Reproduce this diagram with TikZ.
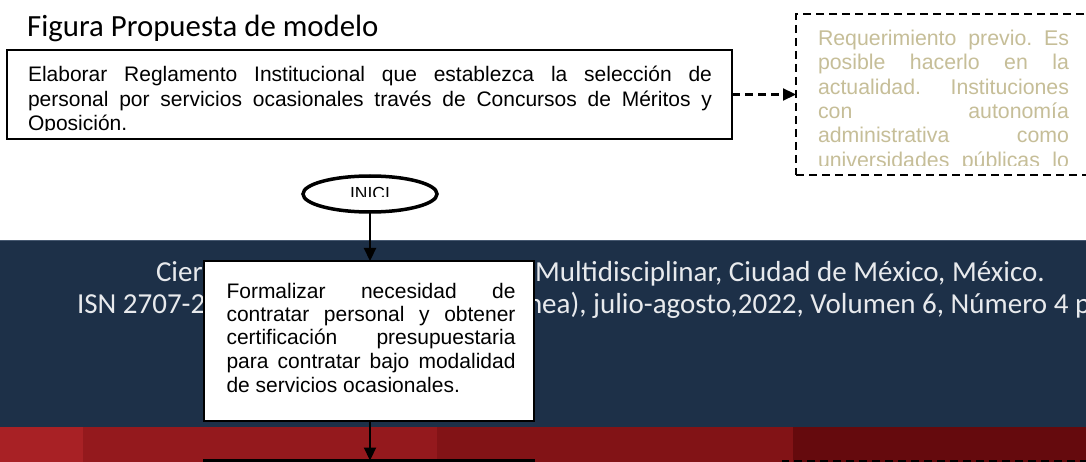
\documentclass[tikz,border=0pt]{standalone}
\usepackage{fontspec}
\setmainfont{Liberation Sans}
\newfontfamily\calibri{Carlito}
\usetikzlibrary{arrows.meta,shapes.geometric}
\frenchspacing
\definecolor{navy}{RGB}{29,48,72}
\definecolor{navyline}{RGB}{70,88,112}
\definecolor{tantext}{RGB}{198,190,152}
\definecolor{bandtext}{RGB}{232,234,237}
\definecolor{redA}{RGB}{168,33,37}
\definecolor{redB}{RGB}{148,25,29}
\definecolor{redC}{RGB}{130,19,22}
\definecolor{redD}{RGB}{101,10,13}
\begin{document}
\frenchspacing
\begin{tikzpicture}[x=1pt,y=-1pt,
  procbox/.style={draw=black,line width=2.5pt,fill=white,rectangle,inner sep=0pt,outer sep=0pt},
  notebox/.style={draw=black,line width=2.6pt,dash pattern=on 8pt off 5pt,rectangle,inner sep=0pt,outer sep=0pt},
  startnode/.style={draw=black,line width=3.5pt,fill=white,ellipse,inner sep=0pt,outer sep=0pt},
  flow/.style={line width=2.2pt,-{Triangle[length=13pt,width=12pt]}},
  dflow/.style={flow,dash pattern=on 8pt off 5pt},
  body/.style={font=\fontsize{21}{24.6}\selectfont,inner sep=0pt,outer sep=0pt,anchor=base west},
  bodyB/.style={font=\fontsize{21}{23.5}\selectfont,inner sep=0pt,outer sep=0pt,anchor=base west},
  band/.style={font=\calibri\fontsize{29}{32}\selectfont,text=bandtext,inner sep=0pt,outer sep=0pt,anchor=base west}
]
\useasboundingbox (0,0) rectangle (1086,462);
\clip (0,0) rectangle (1086,462);
% background bands
\fill[white] (0,0) rectangle (1086,462);
\fill[navy] (0,240) rectangle (1086,427);
\draw[navyline,line width=1pt] (0,240.5) -- (1086,240.5);
\fill[redA] (0,427) rectangle (83,462);
\fill[redB] (83,427) rectangle (437,462);
\fill[redC] (437,427) rectangle (793,462);
\fill[redD] (793,427) rectangle (1086,462);
% band text (visible fragments)
\node[band] (c1) at (156,281) {Cier};
\node[band] (c2) at (535,281) {Multidisciplinar, Ciudad de México, México.};
\node[band] (c3) at (77,313) {ISN 2707-2};
\node[band] (c4) at (527,313) {nea), julio-agosto,2022, Volumen 6, Número 4 p};
% title
\node[font=\calibri\fontsize{30.8}{36}\selectfont,anchor=base west,inner sep=0pt] (title) at (27,36.5) {Figura Propuesta de modelo};
% box 1
\node[procbox,minimum width=725pt,minimum height=89pt] (box1) at (369.5,94.5) {};
\begin{scope}
\clip (8,51) rectangle (731,131);
\node[body] (t1) at (28,81.5) {\vtop{%
\hbox{\makebox[684pt][s]{Elaborar Reglamento Institucional que establezca la selección de}}
\hbox{\makebox[684pt][s]{personal por servicios ocasionales través de Concursos de Méritos y}}
\hbox{Oposición.}}};
\end{scope}
% dashed note
\node[notebox,minimum width=304pt,minimum height=161pt] (note) at (948,94.5) {};
\begin{scope}
\clip (798,16) rectangle (1086,165.5);
\node[bodyB,text=tantext,font=\fontsize{21.3}{24.3}\selectfont] (t2) at (818,45.7) {\vtop{%
\hbox{\makebox[251pt][s]{Requerimiento previo. Es}}
\hbox{\makebox[251pt][s]{posible hacerlo en la}}
\hbox{\makebox[251pt][s]{actualidad. Instituciones}}
\hbox{\makebox[251pt][s]{con autonomía}}
\hbox{\makebox[251pt][s]{administrativa como}}
\hbox{\makebox[251pt][s]{universidades públicas lo}}}};
\end{scope}
\draw[dflow] (box1.east) -- (note.west);
% start ellipse
\node[startnode,minimum width=134pt,minimum height=36pt] (start) at (370,194) {};
\begin{scope}
\clip (303,176) rectangle (437,196.5);
\node[font=\fontsize{17.5}{20}\selectfont,anchor=base,inner sep=0pt] (t3) at (370,199.8) {INICI};
\end{scope}
% box 2
\node[procbox,minimum width=330pt,minimum height=160pt] (box2) at (369,341) {};
\node[bodyB] (t4) at (226.5,298) {\vtop{%
\hbox{\makebox[289pt][s]{Formalizar necesidad de}}
\hbox{\makebox[289pt][s]{contratar personal y obtener}}
\hbox{\makebox[289pt][s]{certificación presupuestaria}}
\hbox{\makebox[289pt][s]{para contratar bajo modalidad}}
\hbox{de servicios ocasionales.}}};
\draw[flow] (start.south) -- (start.south |- box2.north);
% next elements (partly visible)
\node[procbox,minimum width=330pt,minimum height=100pt] (box3) at (369,510.5) {};
\node[notebox,minimum width=317pt,minimum height=100pt] (note2) at (941.5,511) {};
\draw[flow] (start.south |- box2.south) -- (start.south |- box3.north);
\end{tikzpicture}
\end{document}
